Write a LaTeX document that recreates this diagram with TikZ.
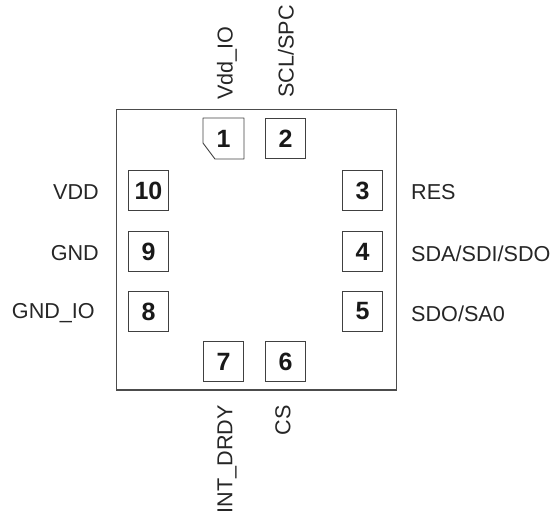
\documentclass[tikz,border=0pt]{standalone}
\usepackage{fontspec}
\setmainfont{Liberation Sans}
\tikzset{
  pad/.style={draw=black!75,line width=0.9pt,minimum size=40.5pt,inner sep=0pt,font=\fontsize{25}{27}\selectfont\bfseries,text=black!90},
  padtext/.style={inner sep=0pt,font=\fontsize{21.6}{24}\selectfont,text=black!85},
}
\begin{document}
\begin{tikzpicture}[x=1pt,y=-1pt]
\useasboundingbox (0,0) rectangle (553,515);

\draw[draw=black!70,line width=1.2pt] (116.5,109.5) rectangle (396.5,390);

% pads
\node[pad,draw=none] (p1) at (223.5,138.5) {1};
\draw[draw=black!75,line width=0.9pt,line join=round] (203,118) -- (244,118) -- (244,159) -- (215,159) -- (203,143) -- cycle;
\foreach \n/\x/\y in {2/285.5/138.5,10/148.5/190.5,9/148.5/251.5,8/148.5/311.5,3/362.5/190.5,4/362.5/251.5,5/362.5/311.5,7/223.5/361.5,6/285.5/361.5}
  \node[pad] (p\n) at (\x,\y) {\n};

% left and right labels
\node[padtext,anchor=east] (vdd) at (99,192.5) {VDD};
\node[padtext,anchor=east] (gnd) at (99,253.5) {GND};
\node[padtext,anchor=east] (gndio) at (95,313.5) {GND\_IO};
\node[padtext,anchor=west] (res) at (411,192.5) {RES};
\node[padtext,anchor=west] (sda) at (411,253.5) {SDA/SDI/SDO};
\node[padtext,anchor=west] (sdo) at (411,313.5) {SDO/SA0};

% top and bottom labels
\node[padtext,rotate=90,anchor=west] (vddio) at (227,100) {Vdd\_IO};
\node[padtext,rotate=90,anchor=west] (scl) at (286,98) {SCL/SPC};
\node[padtext,rotate=90,anchor=east] (int) at (227,405) {INT\_DRDY};
\node[padtext,rotate=90,anchor=east] (cs) at (283,405) {CS};
\end{tikzpicture}
\end{document}
